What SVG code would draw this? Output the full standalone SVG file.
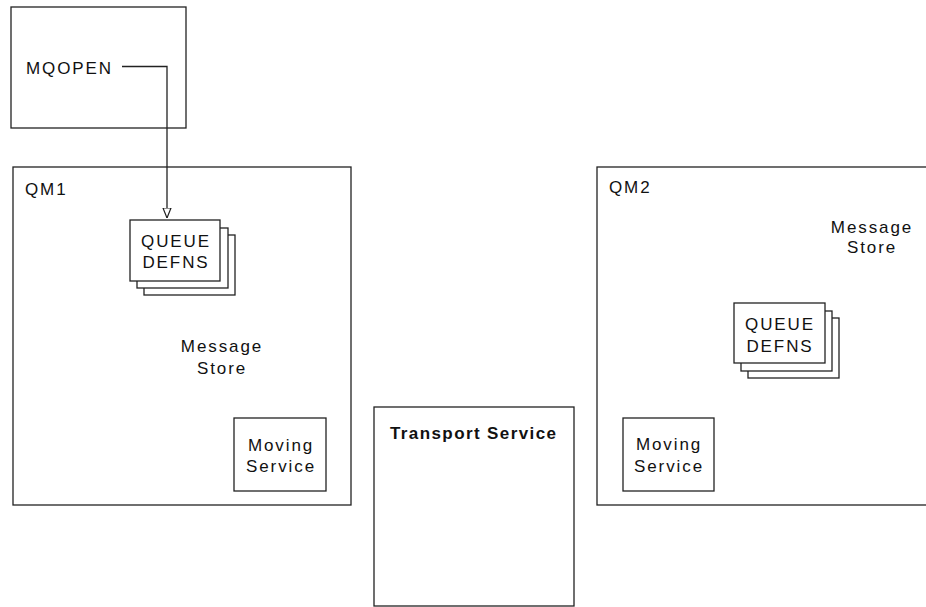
<svg xmlns="http://www.w3.org/2000/svg" width="926" height="607" viewBox="0 0 926 607">
<defs>
<style>
.box{fill:#fff;stroke:#222;stroke-width:1.3}
.t{font-family:"Liberation Sans",Arial,sans-serif;font-size:17px;letter-spacing:1.9px;fill:#111}
.c{text-anchor:middle}
.b{font-weight:bold;letter-spacing:1.4px}
.ln{fill:none;stroke:#222;stroke-width:1.3}
</style>
<marker id="arr" viewBox="0 0 10 10" refX="10" refY="5" markerWidth="10" markerHeight="10" markerUnits="userSpaceOnUse" orient="auto">
<path d="M0,1 L10,5 L0,9 Z" fill="#fff" stroke="#222" stroke-width="1.2"/>
</marker>
</defs>
<rect width="926" height="607" fill="#fff"/>
<g id="app">
<rect class="box" x="11" y="7" width="175" height="121"/>
<text class="t" x="26" y="74">MQOPEN</text>
</g>
<g id="qm1">
<rect class="box" x="13" y="167" width="338" height="338"/>
<text class="t" x="25" y="195">QM1</text>
<text class="t c" x="222" y="352">Message</text>
<text class="t c" x="222" y="374">Store</text>
</g>
<g id="qm1-queue">
<rect class="box" x="144" y="235" width="91" height="60"/>
<rect class="box" x="137" y="228" width="91" height="60"/>
<rect class="box" x="130" y="220" width="90" height="61"/>
<text class="t c" x="176" y="247">QUEUE</text>
<text class="t c" x="176" y="268">DEFNS</text>
</g>
<g id="qm1-moving">
<rect class="box" x="234" y="418" width="92" height="73"/>
<text class="t c" x="281" y="451">Moving</text>
<text class="t c" x="281" y="472">Service</text>
</g>
<g id="transport">
<rect class="box" x="374" y="407" width="200" height="199"/>
<text class="t b" x="390" y="439">Transport Service</text>
</g>
<g id="qm2">
<rect class="box" x="597" y="167" width="340" height="338"/>
<text class="t" x="609" y="193">QM2</text>
<text class="t c" x="872" y="233">Message</text>
<text class="t c" x="872" y="253">Store</text>
</g>
<g id="qm2-queue">
<rect class="box" x="748" y="318" width="91" height="60"/>
<rect class="box" x="741" y="311" width="91" height="60"/>
<rect class="box" x="734" y="303" width="91" height="60"/>
<text class="t c" x="780" y="330">QUEUE</text>
<text class="t c" x="780" y="352">DEFNS</text>
</g>
<g id="qm2-moving">
<rect class="box" x="623" y="418" width="91" height="73"/>
<text class="t c" x="669" y="450">Moving</text>
<text class="t c" x="669" y="472">Service</text>
</g>
<g id="connectors">
<path class="ln" d="M122,66.5 H167 V218" marker-end="url(#arr)"/>
</g>
</svg>
